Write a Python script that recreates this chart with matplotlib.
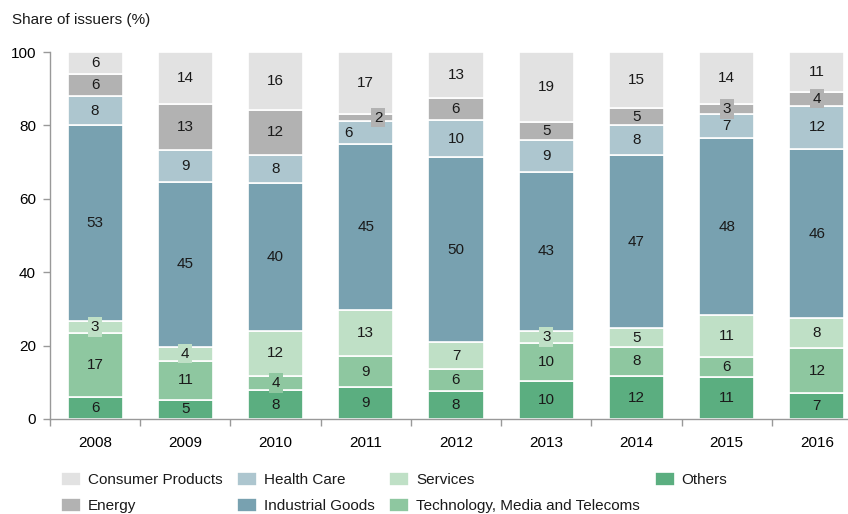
import matplotlib
matplotlib.use("Agg")
import matplotlib.pyplot as plt
import numpy as np

plt.rcParams["font.family"] = ["Liberation Sans", "DejaVu Sans"]
plt.rcParams["font.size"] = 11
plt.rcParams["text.color"] = "#1a1a1a"

years = ["2008", "2009", "2010", "2011", "2012", "2013", "2014", "2015", "2016"]

# bottom to top
others = [6.1, 5.2, 7.9, 8.6, 7.7, 10.4, 11.7, 11.4, 7.0]
tmt = [17.4, 10.7, 3.9, 8.6, 5.9, 10.2, 8.0, 5.6, 12.3]
services = [3.1, 3.8, 12.2, 12.6, 7.3, 3.4, 5.0, 11.4, 8.1]
industrial = [53.4, 45.0, 40.2, 45.0, 50.4, 43.4, 47.2, 48.1, 46.2]
health = [7.9, 8.6, 7.7, 6.3, 10.1, 8.6, 8.2, 6.6, 11.8]
energy = [6.1, 12.6, 12.4, 2.1, 6.0, 5.0, 4.6, 2.7, 3.8]
consumer = [6.0, 14.1, 15.7, 16.8, 12.6, 19.0, 15.3, 14.2, 10.8]

series = [
    ("Others", others, "#5bae80"),
    ("Technology, Media and Telecoms", tmt, "#8ec7a0"),
    ("Services", services, "#bfe0c6"),
    ("Industrial Goods", industrial, "#78a1b0"),
    ("Health Care", health, "#adc6cf"),
    ("Energy", energy, "#b2b2b2"),
    ("Consumer Products", consumer, "#e2e2e2"),
]

# label nudges (category index, series name) -> x offset in data units
nudge = {(3, "Energy"): 0.14, (3, "Health Care"): -0.19}

fig = plt.figure(figsize=(8.48, 5.14), dpi=100)
ax = fig.add_axes([50 / 848, 95 / 514, 812 / 848, 367 / 514])

x = np.arange(len(years))
bottom = np.zeros(len(years))
handles = {}
for name, vals, col in series:
    vals = np.array(vals)
    b = ax.bar(x, vals, 0.61, bottom=bottom, color=col, edgecolor="white",
               linewidth=1.2, label=name)
    handles[name] = b
    for i, v in enumerate(vals):
        xx = x[i] + nudge.get((i, name), 0)
        yy = bottom[i] + v / 2
        if v < 4.5:
            ax.text(xx, yy, f"{v:.0f}", ha="center", va="center", fontsize=11,
                    bbox=dict(facecolor=col, edgecolor="none", pad=2.0))
        else:
            ax.text(xx, yy, f"{v:.0f}", ha="center", va="center", fontsize=11)
    bottom += vals

ax.set_xlim(-0.5, 8.5)
ax.set_ylim(0, 100)
ax.set_yticks([0, 20, 40, 60, 80, 100])
ax.set_xticks(x)
ax.set_xticklabels(years)
ax.set_xticks(np.arange(-0.5, 9, 1), minor=True)
ax.tick_params(axis="x", which="major", length=0, pad=12)
ax.tick_params(axis="x", which="minor", length=5, color="#999999", width=1)
ax.tick_params(axis="y", length=5, color="#999999", width=1, pad=5)
for s in ["top", "right"]:
    ax.spines[s].set_visible(False)
for s in ["left", "bottom"]:
    ax.spines[s].set_color("#999999")
    ax.spines[s].set_linewidth(1)

fig.text(12 / 848, 1 - 20 / 514, "Share of issuers (%)", ha="left", va="center", fontsize=11)

order = ["Consumer Products", "Energy", "Health Care", "Industrial Goods",
         "Services", "Technology, Media and Telecoms", "Others"]
fig.legend([handles[n] for n in order], order, ncol=4, frameon=False,
           loc="upper left", bbox_to_anchor=(61 / 848, 1 - 472 / 514),
           borderaxespad=0, borderpad=0, handlelength=1.3, handleheight=1.0,
           handletextpad=0.45, columnspacing=0.97, labelspacing=0.72, fontsize=11)

fig.savefig("out.png", dpi=100)
